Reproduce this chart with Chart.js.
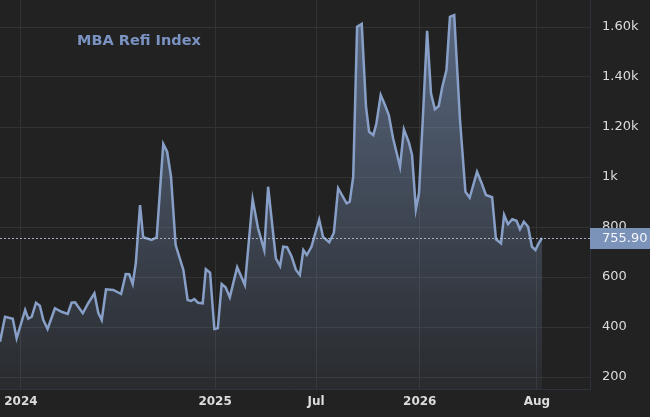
<!DOCTYPE html>
<html>
<head>
<meta charset="utf-8">
<script src="https://cdn.jsdelivr.net/npm/chart.js@4.4.1/dist/chart.umd.min.js"></script>
<style>
  html, body { margin: 0; padding: 0; background: #222222; }
  #wrap { width: 650px; height: 417px; position: relative; }
</style>
</head>
<body>
<div id="wrap"><canvas id="refiChart"></canvas></div>
<script>
// weeks since the first observation (mid Nov 2023)
const weeks = [
  0, 1.3, 3.3, 4.3, 6.5, 7.3, 8.2, 9.3, 10.3, 11.2, 12.3, 14.2, 15.9, 17.5, 18.5, 19.4,
  21.4, 22.8, 24.4, 25.4, 26.3, 27.4, 29.3, 31.3, 32.5, 33.4, 34.3, 35.1, 36.2, 37.0,
  39.2, 40.5, 42.2, 43.2, 44.2, 45.4, 47.4, 48.5, 49.4, 50.2, 51.2, 52.4, 53.2, 54.3,
  55.4, 56.3, 57.3, 58.3, 59.4, 61.3, 63.3, 65.3, 66.7, 68.3, 69.3, 71.3, 72.4, 73.2,
  74.2, 75.4, 76.5, 77.5, 78.4, 79.3, 80.5, 82.5, 83.5, 85.1, 86.3, 87.4, 89.6, 90.4,
  91.3, 92.3, 93.5, 94.6, 95.4, 96.5, 97.3, 98.4, 99.5, 100.5, 101.6, 103.4, 104.4,
  105.7, 106.5, 107.5, 108.3, 109.4, 110.4, 111.4, 112.4, 113.4, 114.3, 115.4, 116.3,
  117.4, 118.9, 120.3, 121.4, 123.3, 124.5, 125.6, 127.2, 128.2, 129.5, 130.3, 131.3,
  132.4, 133.5, 134.4, 135.4, 136.5, 137.5, 138.4, 139.3, 140.1
];

const refiIndex = [
  341, 441, 433, 355, 468, 433, 441, 497, 485, 428, 392, 475, 461, 452, 497, 499,
  455, 495, 535, 457, 428, 551, 548, 532, 612, 611, 572, 655, 888, 759,
  748, 759, 1132, 1101, 1001, 728, 628, 508, 504, 512, 497, 495, 631, 617,
  392, 395, 572, 559, 519, 639, 568, 911, 795, 708, 961, 675, 644, 721,
  719, 681, 628, 608, 708, 688, 721, 830, 760, 739, 777, 955, 895, 901,
  1001, 1601, 1612, 1281, 1181, 1168, 1215, 1328, 1288, 1248, 1155, 1041, 1191,
  1138, 1088, 871, 935, 1268, 1585, 1335, 1271, 1284, 1359, 1428, 1641,
  1648, 1228, 941, 917, 1021, 975, 928, 919, 751, 735, 848, 811,
  831, 825, 791, 821, 801, 721, 708, 737, 755.9
];

const xTickWeeks = [5.4, 55.6, 81.7, 108.5, 138.8];
const xTickLabels = ['2024', '2025', 'Jul', '2026', 'Aug'];

const yTickValues = [200, 400, 600, 800, 1000, 1200, 1400, 1600];
const yTickLabels = ['200', '400', '600', '800', '1k', '1.20k', '1.40k', '1.60k'];

const lineColor = '#88a0c8';
const gridColor = '#323232';
const textColor = '#dcdcdc';

const lastValue = refiIndex[refiIndex.length - 1];

const lastValuePlugin = {
  id: 'lastValue',
  afterDraw(chart) {
    const { ctx, chartArea } = chart;
    const y = chart.scales.y.getPixelForValue(lastValue);
    ctx.save();
    // dotted price line
    ctx.strokeStyle = 'rgba(190,200,220,0.85)';
    ctx.lineWidth = 1;
    ctx.setLineDash([2, 2]);
    ctx.beginPath();
    ctx.moveTo(chartArea.left, Math.round(y) + 0.5);
    ctx.lineTo(chartArea.right, Math.round(y) + 0.5);
    ctx.stroke();
    ctx.setLineDash([]);
    // value tag
    ctx.fillStyle = '#7b93b9';
    ctx.fillRect(chartArea.right, Math.round(y) - 10, chart.width - chartArea.right, 21);
    ctx.fillStyle = '#f4f6fa';
    ctx.font = '13px "DejaVu Sans"';
    ctx.textBaseline = 'middle';
    ctx.textAlign = 'left';
    ctx.fillText(lastValue.toFixed(2), chartArea.right + 12, Math.round(y) + 1);
    // title
    ctx.fillStyle = '#7b93c2';
    ctx.font = 'bold 14.5px "DejaVu Sans"';
    ctx.fillText('MBA Refi Index', 77, 41);
    ctx.restore();
  }
};

const ctx = document.getElementById('refiChart').getContext('2d');
new Chart(ctx, {
  type: 'line',
  data: {
    datasets: [{
      label: 'MBA Refi Index',
      data: weeks.map((w, i) => ({ x: w, y: refiIndex[i] })),
      borderColor: lineColor,
      borderWidth: 2.5,
      pointRadius: 0,
      tension: 0,
      fill: 'start',
      backgroundColor: (context) => {
        const { chart } = context;
        const area = chart.chartArea;
        if (!area) return 'rgba(125,149,189,0.3)';
        const g = chart.ctx.createLinearGradient(0, area.top, 0, area.bottom);
        g.addColorStop(0, 'rgba(125,149,189,0.62)');
        g.addColorStop(1, 'rgba(125,149,189,0.08)');
        return g;
      }
    }]
  },
  options: {
    responsive: true,
    maintainAspectRatio: false,
    animation: false,
    layout: { padding: 0 },
    plugins: {
      legend: { display: false },
      tooltip: { enabled: false }
    },
    scales: {
      x: {
        type: 'linear',
        min: 0,
        max: 152.5,
        afterBuildTicks: (axis) => { axis.ticks = xTickWeeks.map(v => ({ value: v })); },
        afterFit: (axis) => {
          axis.height = 28;
          axis.paddingLeft = 0;
          axis.paddingRight = 0;
        },
        ticks: {
          autoSkip: false,
          maxRotation: 0,
          padding: 6,
          color: textColor,
          font: { family: 'DejaVu Sans', size: 12, weight: 'bold' },
          callback: (value, index) => xTickLabels[index]
        },
        grid: { color: gridColor, drawTicks: false },
        border: { color: '#2e3240' }
      },
      y: {
        position: 'right',
        min: 152,
        max: 1708,
        afterBuildTicks: (axis) => { axis.ticks = yTickValues.map(v => ({ value: v })); },
        afterFit: (axis) => {
          axis.width = 60;
          axis.paddingTop = 0;
          axis.paddingBottom = 0;
        },
        ticks: {
          padding: 12,
          color: textColor,
          font: { family: 'DejaVu Sans', size: 13 },
          callback: (value, index) => yTickLabels[index]
        },
        grid: { color: gridColor, drawTicks: false },
        border: { color: '#2e3240' }
      }
    }
  },
  plugins: [lastValuePlugin]
});
</script>
</body>
</html>
